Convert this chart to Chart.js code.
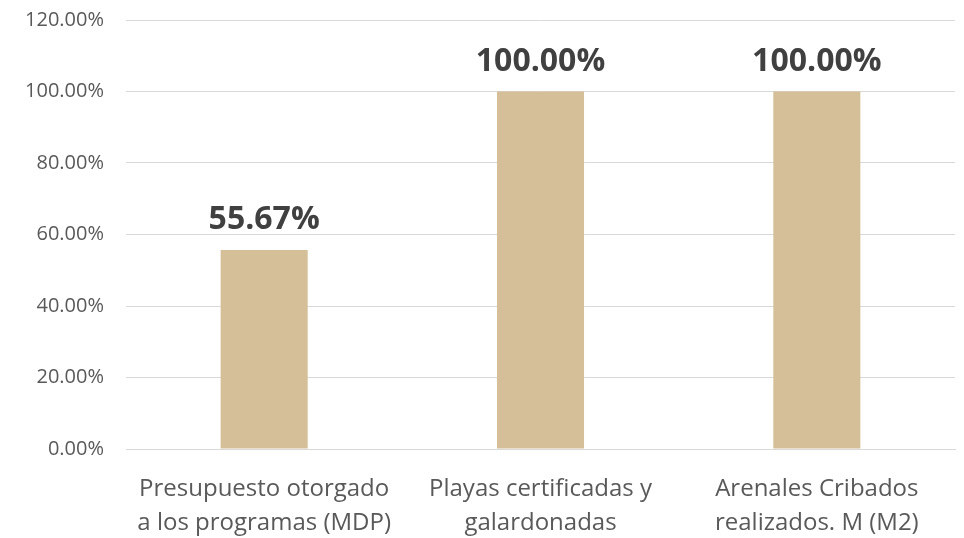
<!DOCTYPE html>
<html>
<head>
<meta charset="utf-8">
<script src="https://cdn.jsdelivr.net/npm/chart.js@4/dist/chart.umd.min.js"></script>
<style>
  html, body { margin: 0; padding: 0; background: #fff; }
  #wrap { width: 964px; height: 538px; position: relative; }
</style>
</head>
<body>
<div id="wrap"><canvas id="chart"></canvas></div>
<script>
var categories = [
    ['Presupuesto otorgado', 'a los programas (MDP)'],
    ['Playas certificadas y', 'galardonadas'],
    ['Arenales Cribados', 'realizados. M (M2)']
];
var values = [0.5567, 1.0, 1.0];
var yTicks = [0, 0.2, 0.4, 0.6, 0.8, 1.0, 1.2];

var FONT = '"Open Sans", Lato, sans-serif';

function pct(v) { return (v * 100).toFixed(2) + '%'; }

// draws the value above each bar
var barLabels = {
    id: 'barLabels',
    afterDatasetsDraw: function(chart) {
        var ctx = chart.ctx;
        var meta = chart.getDatasetMeta(0);
        ctx.save();
        ctx.font = 'bold 32px ' + FONT;
        ctx.fillStyle = '#404040';
        ctx.textAlign = 'center';
        ctx.textBaseline = 'middle';
        meta.data.forEach(function(bar, i) {
            ctx.fillText(pct(values[i]), bar.x, bar.y - 30);
        });
        ctx.restore();
    }
};

new Chart(document.getElementById('chart'), {
    type: 'bar',
    data: {
        labels: categories,
        datasets: [{
            data: values,
            backgroundColor: '#D5BF98',
            categoryPercentage: 1.0,
            barPercentage: 0.315
        }]
    },
    options: {
        responsive: true,
        maintainAspectRatio: false,
        animation: false,
        layout: { padding: { top: 20, right: 9, left: 0, bottom: 0 } },
        plugins: {
            legend: { display: false },
            tooltip: { enabled: false }
        },
        scales: {
            x: {
                grid: { display: false },
                border: { color: '#d9d9d9', width: 1 },
                ticks: {
                    color: '#595959',
                    padding: 15,
                    maxRotation: 0,
                    autoSkip: false,
                    font: { family: FONT, size: 24, lineHeight: 1.42 }
                },
                afterFit: function(scale) { scale.height = 89; }
            },
            y: {
                min: 0,
                max: 1.2,
                afterBuildTicks: function(scale) {
                    scale.ticks = yTicks.map(function(v) { return { value: v }; });
                },
                grid: { color: '#d9d9d9', lineWidth: 1, drawTicks: false },
                border: { display: false },
                ticks: {
                    color: '#595959',
                    padding: 22,
                    font: { family: FONT, size: 20 },
                    callback: function(v) { return pct(v); }
                },
                afterFit: function(scale) {
                    scale.width = 126;
                    scale.paddingTop = 0;
                    scale.paddingBottom = 0;
                }
            }
        }
    },
    plugins: [barLabels]
});
</script>
</body>
</html>
